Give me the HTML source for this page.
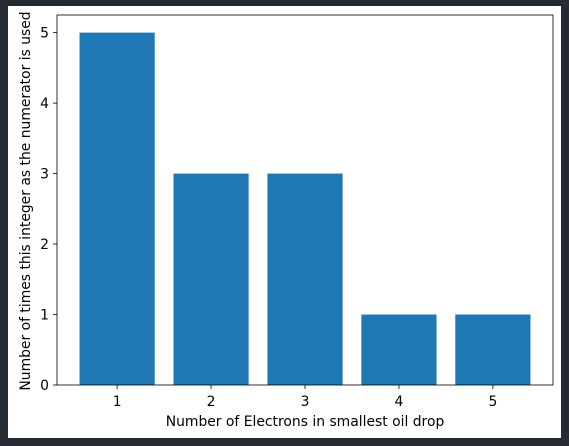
<!DOCTYPE html>
<html><head><meta charset="utf-8"><style>
html,body{margin:0;padding:0;background:#262a33;}
svg{display:block;font-family:"DejaVu Sans","Liberation Sans",sans-serif;}
</style></head><body>
<svg width="569" height="446">
<rect x="8" y="6" width="553" height="432" fill="#fff"/>
<g id="plot"></g>
<text x="305" y="426" font-size="13.9" text-anchor="middle" fill="#000">Number of Electrons in smallest oil drop</text>
<text transform="translate(30,201) rotate(-90)" font-size="13.9" text-anchor="middle" fill="#000">Number of times this integer as the numerator is used</text>
</svg>
<script>
const categories = [1, 2, 3, 4, 5];
const counts = [5, 3, 3, 1, 1];
const yTicks = [0, 1, 2, 3, 4, 5];
const L=57,R=553,T=15,B=385, xmin=0.36,xmax=5.64, ymax=5.25;
const xs=v=>L+(v-xmin)/(xmax-xmin)*(R-L);
const ys=v=>B-v/ymax*(B-T);
const NS="http://www.w3.org/2000/svg";
const g=document.getElementById('plot');
function mk(t,a){const e=document.createElementNS(NS,t);for(const k in a)e.setAttribute(k,a[k]);g.appendChild(e);return e;}
categories.forEach((c,i)=>{
  const w=xs(0.8)-xs(0);
  const b=mk('rect',{x:xs(c)-w/2,y:ys(counts[i]),width:w,height:ys(0)-ys(counts[i]),fill:'#1f77b4'});
  
  
  const t=mk('line',{x1:xs(c),x2:xs(c),y1:B,y2:B+4,stroke:'#000','stroke-width':0.8});
  
  
  const l=mk('text',{x:xs(c),y:B+21,'font-size':13.9,'text-anchor':'middle'});
  l.textContent=c;
  
  
});
yTicks.forEach(v=>{
  const t=mk('line',{x1:L-4,x2:L,y1:ys(v),y2:ys(v),stroke:'#000','stroke-width':0.8});
  
  
  const l=mk('text',{x:L-8,y:ys(v)+5,'font-size':13.9,'text-anchor':'end'});
  l.textContent=v;
  
  
});
const f=mk('rect',{x:L,y:T,width:R-L,height:B-T,fill:'none',stroke:'#000','stroke-width':0.8});


</script>
</body></html>
